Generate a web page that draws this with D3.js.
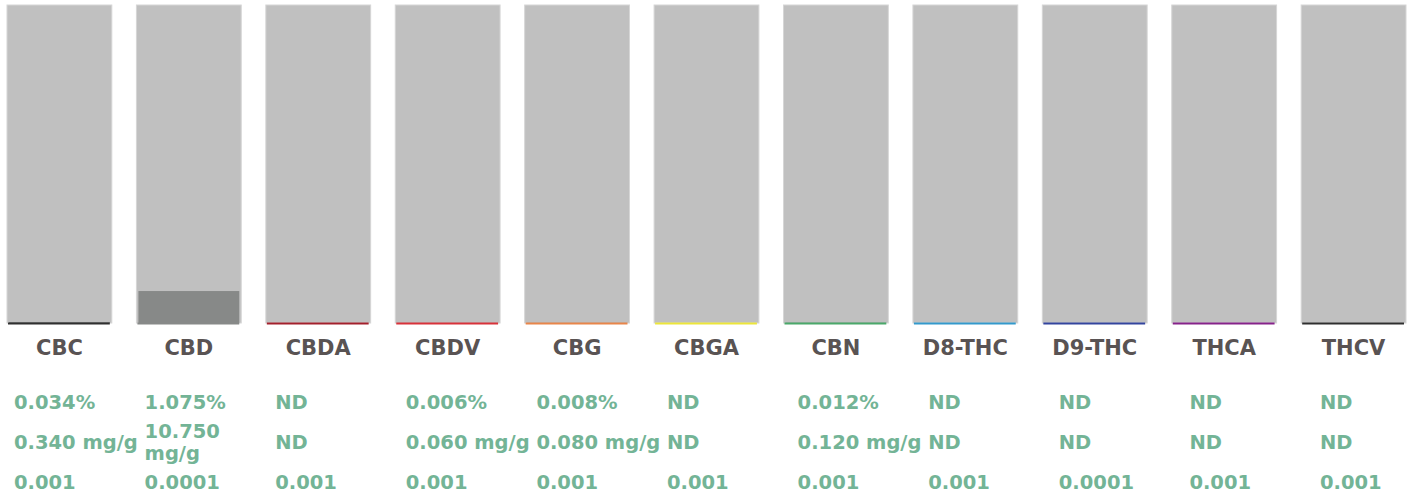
<!DOCTYPE html>
<html>
<head>
<meta charset="utf-8">
<script src="https://cdn.jsdelivr.net/npm/d3@7"></script>
<style>
  html, body { margin: 0; padding: 0; background: #ffffff; }
  svg { display: block; }
</style>
</head>
<body>
<svg id="chart" width="1411" height="493"></svg>
<script>
// ---- data ----
const categories = ["CBC", "CBD", "CBDA", "CBDV", "CBG", "CBGA", "CBN", "D8-THC", "D9-THC", "THCA", "THCV"];
const percentValues = [0.034, 1.075, null, 0.006, 0.008, null, 0.012, null, null, null, null];
const mgPerGValues = [0.340, 10.750, null, 0.060, 0.080, null, 0.120, null, null, null, null];
const lodValues = ["0.001", "0.0001", "0.001", "0.001", "0.001", "0.001", "0.001", "0.001", "0.0001", "0.001", "0.001"];
const lineColors = ["#2f2f2f", "#878988", "#a3202c", "#d8323a", "#e8854a", "#ece53a", "#4aa86a", "#3399cc", "#33449e", "#86228a", "#2f2f2f"];
const percentMax = 10.7;

// ---- layout ----
const trackTop = 5, trackBottom = 323;
const svg = d3.select("#chart");
const font = "'DejaVu Sans', Verdana, sans-serif";

const x = d3.scaleBand().domain(categories).range([7, 1406]).paddingInner(0.19);
const y = d3.scaleLinear().domain([0, percentMax]).range([trackBottom, trackTop]);
const col = d3.scaleBand().domain(categories).range([14, 14 + 11 * 130.6]).padding(0);

const rows = categories.map((c, i) => ({
  cat: c,
  pct: percentValues[i],
  mg: mgPerGValues[i],
  lod: lodValues[i],
  color: lineColors[i]
}));

// track (full-height grey bars)
svg.append("g").selectAll("rect").data(rows).join("rect")
  .attr("x", d => x(d.cat))
  .attr("y", y(percentMax))
  .attr("width", x.bandwidth())
  .attr("height", y(0) - y(percentMax))
  .attr("fill", "#c0c0c0")
  .attr("stroke", "#d6d6d6")
  .attr("stroke-width", 1);

// value fill
svg.append("g").selectAll("rect").data(rows.filter(d => d.pct != null)).join("rect")
  .attr("x", d => x(d.cat) + 2)
  .attr("y", d => y(d.pct))
  .attr("width", x.bandwidth() - 4)
  .attr("height", d => y(0) - y(d.pct))
  .attr("fill", "#878988");

// coloured baseline
svg.append("g").selectAll("line").data(rows).join("line")
  .attr("x1", d => x(d.cat) + 1)
  .attr("x2", d => x(d.cat) + x.bandwidth() - 2)
  .attr("y1", y(0) + 0.5)
  .attr("y2", y(0) + 0.5)
  .attr("stroke", d => d.color)
  .attr("stroke-width", 2);

// category labels
svg.append("g").selectAll("text").data(rows).join("text")
  .attr("x", d => x(d.cat) + x.bandwidth() / 2)
  .attr("y", 355)
  .attr("text-anchor", "middle")
  .attr("font-family", font)
  .attr("font-weight", "bold")
  .attr("font-size", 21)
  .attr("fill", "#595353")
  .text(d => d.cat);

// value table
const green = "#73b496";
const vSize = 19.5;
function addCell(g, d, text, cy) {
  const t = g.append("text")
    .attr("x", col(d.cat))
    .attr("font-family", font)
    .attr("font-weight", "bold")
    .attr("font-size", vSize)
    .attr("fill", green);
  t.text(text);
  const maxW = col.bandwidth() - 2;
  if (t.node().getComputedTextLength() > maxW && text.indexOf(" ") > 0) {
    const parts = text.split(" ");
    t.text(null);
    const lh = 22;
    const n = parts.length;
    parts.forEach((p, k) => {
      t.append("tspan")
        .attr("x", col(d.cat))
        .attr("y", cy + (k - (n - 1) / 2) * lh)
        .text(p);
    });
  } else {
    t.attr("y", cy);
  }
}
const tg = svg.append("g");
rows.forEach(d => {
  addCell(tg, d, d.pct == null ? "ND" : d.pct.toFixed(3) + "%", 409);
  addCell(tg, d, d.mg == null ? "ND" : d.mg.toFixed(3) + " mg/g", 449);
  addCell(tg, d, d.lod, 489);
});
</script>
</body>
</html>
